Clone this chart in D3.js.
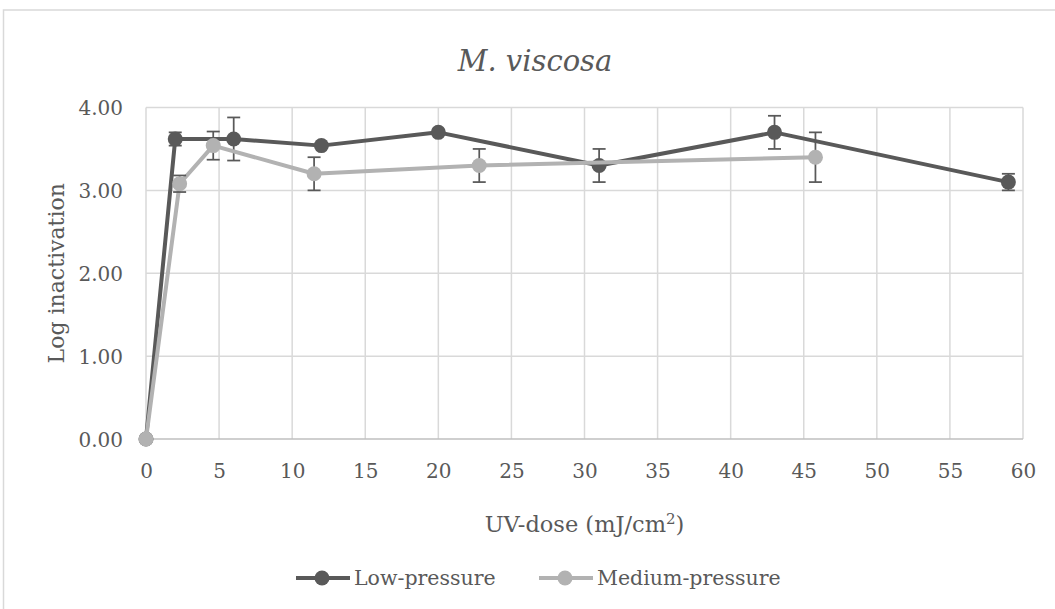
<!DOCTYPE html>
<html>
<head>
<meta charset="utf-8">
<script src="https://cdn.jsdelivr.net/npm/d3@7"></script>
<style>
  html, body { margin: 0; padding: 0; background: #fff; }
  svg { display: block; }
  text { font-family: "DejaVu Serif", "Liberation Serif", serif; fill: #595959; }
</style>
</head>
<body>
<svg id="chart" width="1055" height="609"></svg>
<script>
// ---- data ----
const title = "M. viscosa";
const xTitle = "UV-dose (mJ/cm";
const yTitle = "Log inactivation";
const seriesNames = ["Low-pressure", "Medium-pressure"];

const lowDose  = [0, 2, 6, 12, 20, 31, 43, 59];
const lowLog   = [0, 3.62, 3.62, 3.54, 3.70, 3.30, 3.70, 3.10];
const lowErr   = [0, 0.08, 0.26, 0, 0, 0.20, 0.20, 0.10];

const medDose  = [0, 2.3, 4.6, 11.5, 22.8, 45.8];
const medLog   = [0, 3.08, 3.54, 3.20, 3.30, 3.40];
const medErr   = [0, 0.10, 0.17, 0.20, 0.20, 0.30];

const xTicks = [0, 5, 10, 15, 20, 25, 30, 35, 40, 45, 50, 55, 60];
const yTicks = [0, 1, 2, 3, 4];

const colors = ["#595959", "#b2b2b2"];
const errColor = "#595959";

// ---- layout ----
const svg = d3.select("#chart");
const plot = { left: 146, right: 1023, top: 107.5, bottom: 439 };

const x = d3.scaleLinear().domain([0, 60]).range([plot.left, plot.right]);
const y = d3.scaleLinear().domain([0, 4]).range([plot.bottom, plot.top]);

// chart frame
svg.append("rect")
  .attr("x", 3.5).attr("y", 10).attr("width", 1080).attr("height", 640)
  .attr("fill", "#fff").attr("stroke", "#d9d9d9").attr("stroke-width", 1.5);

// gridlines
const grid = svg.append("g");
grid.selectAll("line.v").data(xTicks).join("line")
  .attr("x1", d => x(d)).attr("x2", d => x(d))
  .attr("y1", plot.top).attr("y2", plot.bottom)
  .attr("stroke", "#d9d9d9").attr("stroke-width", 1.5);
grid.selectAll("line.h").data(yTicks.filter(d => d > 0)).join("line")
  .attr("x1", plot.left).attr("x2", plot.right)
  .attr("y1", d => y(d)).attr("y2", d => y(d))
  .attr("stroke", "#d9d9d9").attr("stroke-width", 1.5);
// x axis line
svg.append("line")
  .attr("x1", plot.left).attr("x2", plot.right)
  .attr("y1", y(0)).attr("y2", y(0))
  .attr("stroke", "#bfbfbf").attr("stroke-width", 1.5);

// tick labels via d3 axes (no lines)
const xAxis = svg.append("g")
  .attr("transform", `translate(0,${plot.bottom})`)
  .call(d3.axisBottom(x).tickValues(xTicks).tickSize(0).tickPadding(0).tickFormat(d3.format("d")));
xAxis.select(".domain").remove();
xAxis.selectAll("text")
  .attr("y", 39).attr("dy", null)
  .style("font-size", "20px").style("font-family", "DejaVu Serif").attr("fill", "#595959");

const yAxis = svg.append("g")
  .attr("transform", `translate(123,0)`)
  .call(d3.axisLeft(y).tickValues(yTicks).tickSize(0).tickPadding(0).tickFormat(d3.format(".2f")));
yAxis.select(".domain").remove();
yAxis.selectAll("text")
  .attr("x", 0).attr("dy", "0.36em")
  .style("font-size", "20px").style("font-family", "DejaVu Serif").attr("fill", "#595959");

// titles
svg.append("text")
  .attr("x", 535).attr("y", 71).attr("text-anchor", "middle")
  .style("font-size", "29px").style("font-style", "italic")
  .text(title);

const xt = svg.append("text")
  .attr("x", x(30)).attr("y", 532).attr("text-anchor", "middle")
  .style("font-size", "22.5px");
xt.append("tspan").text(xTitle);
xt.append("tspan").attr("dy", -8).style("font-size", "15px").text("2");
xt.append("tspan").attr("dy", 8).text(")");

svg.append("text")
  .attr("transform", `translate(64,${(plot.top + plot.bottom) / 2}) rotate(-90)`)
  .attr("text-anchor", "middle")
  .style("font-size", "22px")
  .text(yTitle);

// series
const series = [
  { name: seriesNames[0], xs: lowDose, ys: lowLog, es: lowErr, color: colors[0] },
  { name: seriesNames[1], xs: medDose, ys: medLog, es: medErr, color: colors[1] }
];

const line = d3.line().x(d => x(d.x)).y(d => y(d.y));

series.forEach(s => {
  const pts = s.xs.map((v, i) => ({ x: v, y: s.ys[i], e: s.es[i] }));
  const g = svg.append("g");
  g.append("path").datum(pts)
    .attr("d", line).attr("fill", "none")
    .attr("stroke", s.color).attr("stroke-width", 4).attr("stroke-linejoin", "round");
  const eb = g.append("g").selectAll("g").data(pts.filter(p => p.e > 0)).join("g");
  eb.append("line")
    .attr("x1", p => x(p.x)).attr("x2", p => x(p.x))
    .attr("y1", p => y(p.y + p.e)).attr("y2", p => y(p.y - p.e))
    .attr("stroke", errColor).attr("stroke-width", 1.75);
  eb.append("line")
    .attr("x1", p => x(p.x) - 6.5).attr("x2", p => x(p.x) + 6.5)
    .attr("y1", p => y(p.y + p.e)).attr("y2", p => y(p.y + p.e))
    .attr("stroke", errColor).attr("stroke-width", 1.75);
  eb.append("line")
    .attr("x1", p => x(p.x) - 6.5).attr("x2", p => x(p.x) + 6.5)
    .attr("y1", p => y(p.y - p.e)).attr("y2", p => y(p.y - p.e))
    .attr("stroke", errColor).attr("stroke-width", 1.75);
  g.append("g").selectAll("circle").data(pts).join("circle")
    .attr("cx", p => x(p.x)).attr("cy", p => y(p.y)).attr("r", 7.5)
    .attr("fill", s.color);
});

// legend
const legendItems = [
  { name: seriesNames[0], color: colors[0], x0: 296 },
  { name: seriesNames[1], color: colors[1], x0: 539 }
];
const lg = svg.append("g");
legendItems.forEach(it => {
  lg.append("line")
    .attr("x1", it.x0).attr("x2", it.x0 + 54).attr("y1", 578).attr("y2", 578)
    .attr("stroke", it.color).attr("stroke-width", 4);
  lg.append("circle").attr("cx", it.x0 + 26).attr("cy", 578).attr("r", 7.5).attr("fill", it.color);
  lg.append("text").attr("x", it.x0 + 58).attr("y", 585)
    .style("font-size", "20.5px").text(it.name);
});
</script>
</body>
</html>
